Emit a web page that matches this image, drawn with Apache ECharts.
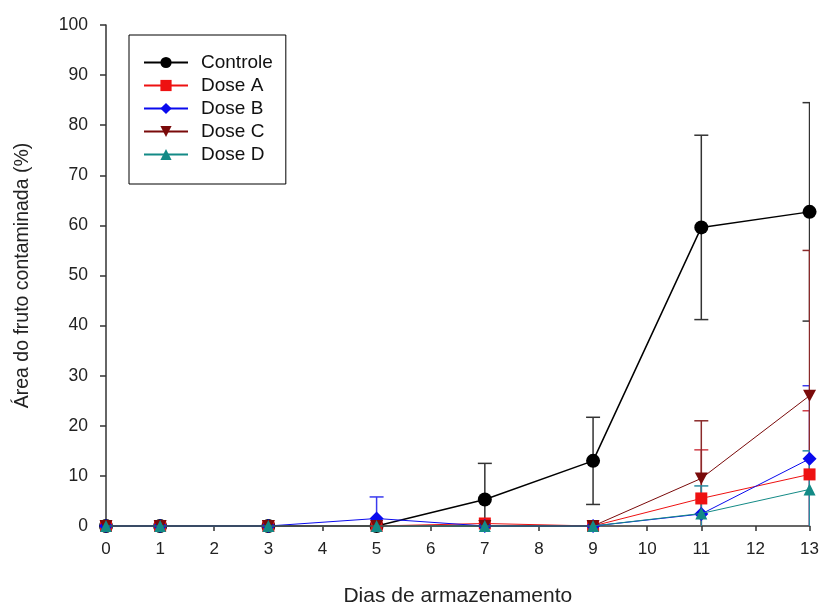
<!DOCTYPE html>
<html>
<head>
<meta charset="utf-8">
<script src="https://cdn.jsdelivr.net/npm/echarts@6/dist/echarts.min.js"></script>
<style>html,body{margin:0;padding:0;background:#fff}#c{width:822px;height:612px}</style>
</head>
<body>
<div id="c"></div>
<script>
var days = [0, 1, 3, 5, 7, 9, 11, 13];
var seriesNames = ['Controle', 'Dose A', 'Dose B', 'Dose C', 'Dose D'];
var controle = [0, 0, 0, 0, 5.3, 13.0, 59.6, 62.7];
var doseA = [0, 0, 0, 0, 0.5, 0, 5.5, 10.3];
var doseB = [0, 0, 0, 1.5, 0, 0, 2.4, 13.4];
var doseC = [0, 0, 0, 0, 0, 0, 9.5, 26.0];
var doseD = [0, 0, 0, 0, 0, 0, 2.5, 7.3];
var errControle = [0, 0, 0, 0, 7.2, 8.7, 18.4, 21.8];
var errA = [0, 0, 0, 0, 0, 0, 9.7, 12.7];
var errB = [0, 0, 0, 4.3, 0, 0, 0, 14.6];
var errC = [0, 0, 0, 0, 0, 0, 11.5, 29.0];
var errD = [0, 0, 0, 0, 0, 0, 5.5, 7.7];
var xTicks = [0,1,2,3,4,5,6,7,8,9,10,11,12,13];

var values = [controle, doseA, doseB, doseC, doseD];
var errors = [errControle, errA, errB, errC, errD];
var colors = ['#000000', '#ee1111', '#0a0aee', '#7a0a0a', '#138a86'];
var errColors = ['#333333', '#d0404a', '#3a3aee', '#8a2a2a', '#2a8aa0'];
var symbols = ['circle', 'rect', 'diamond', 'path://M0,0 L10,0 L5,9 Z', 'triangle'];
var sizes = [14, 12, 14, 13, 12];
var lineWidths = [1.5, 1, 1, 1, 1];

var chart = echarts.init(document.getElementById('c'));
var series = [];
values.forEach(function (vals, i) {
  var errData = [];
  days.forEach(function (d, j) {
    if (errors[i][j] > 0) errData.push([d, vals[j] - errors[i][j], vals[j] + errors[i][j]]);
  });
  series.push({
    type: 'custom',
    name: seriesNames[i] + ' err',
    clip: true,
    z: 1,
    silent: true,
    data: errData,
    renderItem: function (params, api) {
      var x = api.value(0), lo = api.value(1), hi = api.value(2);
      var pLo = api.coord([x, lo]);
      var pHi = api.coord([x, hi]);
      var w = 7;
      var st = { stroke: errColors[i], lineWidth: 1.5 };
      return {
        type: 'group',
        children: [
          { type: 'line', shape: { x1: pLo[0], y1: pLo[1], x2: pHi[0], y2: pHi[1] }, style: st },
          { type: 'line', shape: { x1: pHi[0] - w, y1: pHi[1], x2: pHi[0] + w, y2: pHi[1] }, style: st },
          { type: 'line', shape: { x1: pLo[0] - w, y1: pLo[1], x2: pLo[0] + w, y2: pLo[1] }, style: st }
        ]
      };
    }
  });
});
values.forEach(function (vals, i) {
  series.push({
    type: 'line',
    name: seriesNames[i],
    data: days.map(function (d, j) { return [d, vals[j]]; }),
    symbol: symbols[i],
    symbolSize: i === 3 ? [13, 12] : sizes[i],
    showAllSymbol: true,
    clip: false,
    z: 3 + i,
    lineStyle: { color: colors[i], width: lineWidths[i] },
    itemStyle: { color: colors[i] },
    emphasis: { disabled: true }
  });
});

chart.setOption({
  animation: false,
  backgroundColor: '#ffffff',
  textStyle: { fontFamily: 'Liberation Sans, Arial, sans-serif' },
  grid: { left: 106, right: 11, top: 25, bottom: 81, containLabel: false },
  legend: {
    orient: 'vertical',
    left: 129,
    top: 35,
    data: seriesNames,
    backgroundColor: '#ffffff',
    borderColor: '#000000',
    borderWidth: 1,
    borderRadius: 0,
    padding: [18, 13, 20, 14],
    itemWidth: 44,
    itemHeight: 14,
    itemGap: 4,
    textStyle: { fontSize: 19, color: '#111', lineHeight: 14, padding: [0, 0, 0, 8], fontFamily: 'Liberation Sans, Arial, sans-serif' }
  },
  xAxis: {
    type: 'value',
    min: 0,
    max: 13,
    interval: 1,
    name: 'Dias de armazenamento',
    nameLocation: 'middle',
    nameGap: 60,
    nameTextStyle: { fontSize: 21, color: '#222' },
    axisLine: { onZero: false, lineStyle: { color: '#333', width: 1.5 } },
    axisTick: { show: true, inside: false, length: 5, lineStyle: { color: '#333', width: 1.5 } },
    axisLabel: { fontSize: 17, color: '#222', margin: 15,
      formatter: function (v) { return xTicks.indexOf(v) >= 0 ? String(v) : ''; } },
    splitLine: { show: false }
  },
  yAxis: {
    type: 'value',
    min: 0,
    max: 100,
    interval: 10,
    name: 'Área do fruto contaminada (%)',
    nameLocation: 'middle',
    nameGap: 73,
    nameTextStyle: { fontSize: 19.5, color: '#222' },
    axisLine: { show: true, lineStyle: { color: '#333', width: 1.5 } },
    axisTick: { show: true, inside: false, length: 6, lineStyle: { color: '#333', width: 1.5 } },
    axisLabel: { fontSize: 17.5, color: '#222', margin: 18 },
    splitLine: { show: false }
  },
  series: series
});
</script>
</body>
</html>
